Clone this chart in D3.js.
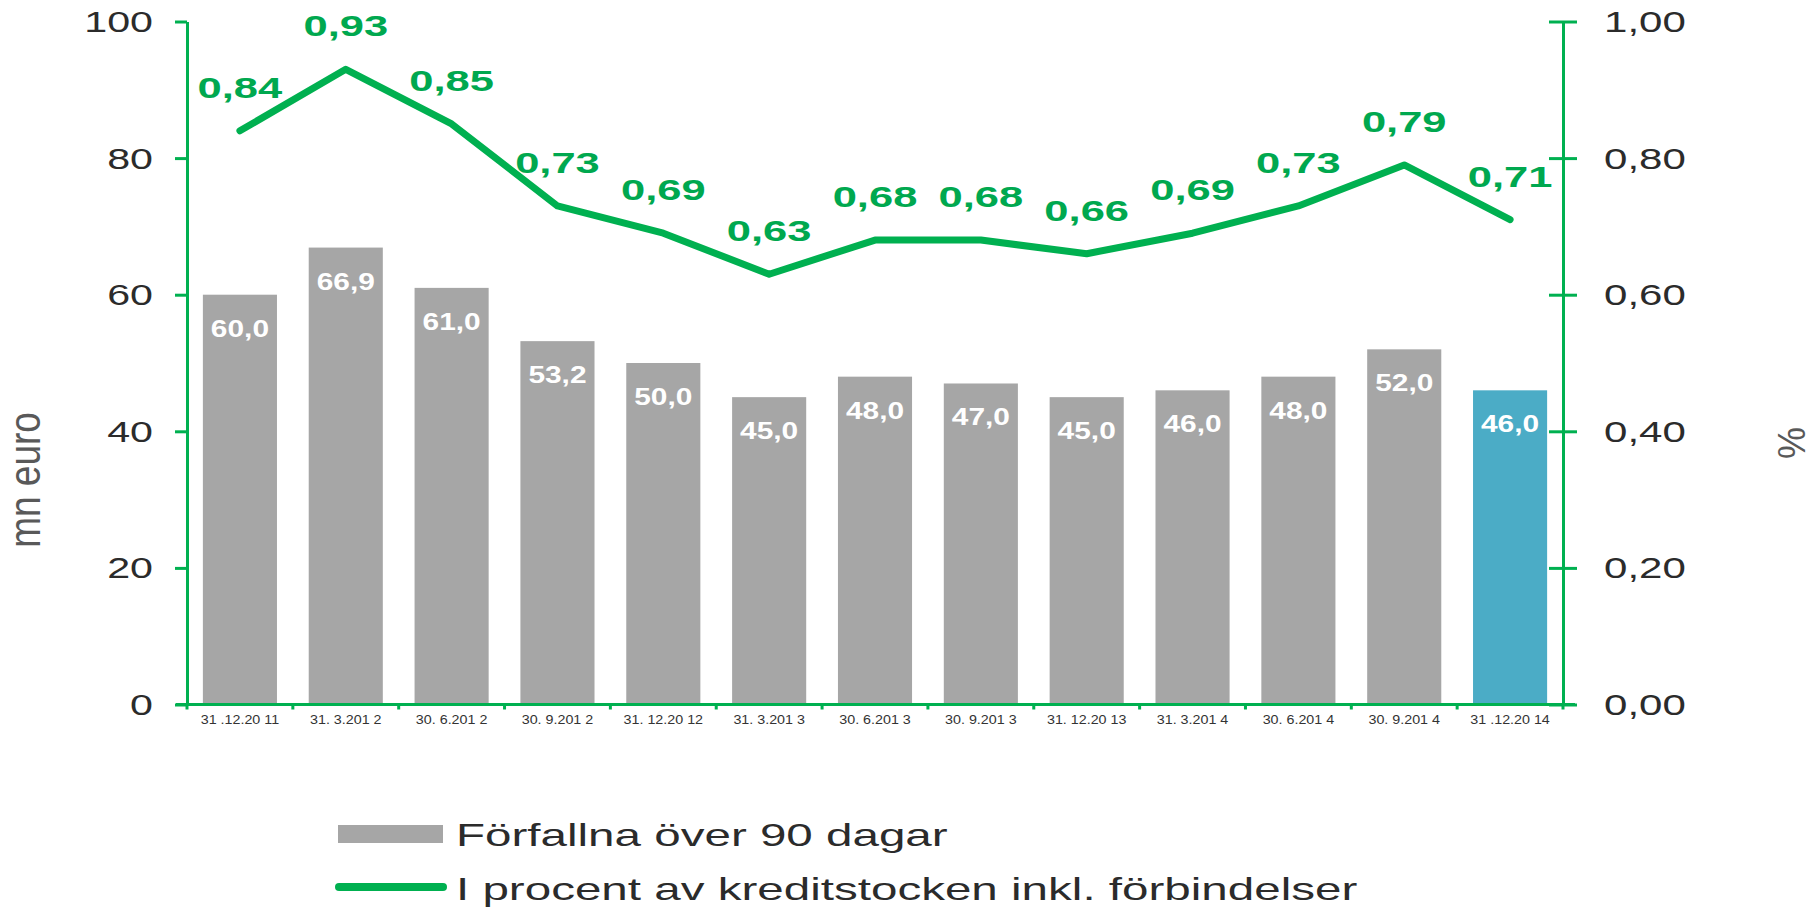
<!DOCTYPE html>
<html>
<head>
<meta charset="utf-8">
<script src="https://cdn.jsdelivr.net/npm/d3@7"></script>
<style>
  body { margin: 0; background: #fff; }
  text { font-family: "Liberation Sans", Arial, sans-serif; }
</style>
</head>
<body>
<svg width="1818" height="907"></svg>
<script>
// Data
var categories = ["31 .12.20 11", "31. 3.201 2", "30. 6.201 2", "30. 9.201 2", "31. 12.20 12",
  "31. 3.201 3", "30. 6.201 3", "30. 9.201 3", "31. 12.20 13", "31. 3.201 4",
  "30. 6.201 4", "30. 9.201 4", "31 .12.20 14"];
var overdue = [60.0, 66.9, 61.0, 53.2, 50.0, 45.0, 48.0, 47.0, 45.0, 46.0, 48.0, 52.0, 46.0];
var percent = [0.84, 0.93, 0.85, 0.73, 0.69, 0.63, 0.68, 0.68, 0.66, 0.69, 0.73, 0.79, 0.71];
var leftTicks = [0, 20, 40, 60, 80, 100];
var rightTicks = [0, 0.2, 0.4, 0.6, 0.8, 1.0];
var legendLabels = ["Förfallna över 90 dagar", "I procent av kreditstocken inkl. förbindelser"];

var green = "#00b050";
var greenText = "#00a84f";
var gray = "#a6a6a6";
var blue = "#4bacc6";

// Swedish number format
var locale = d3.formatLocale({decimal: ",", thousands: " ", grouping: [3], currency: ["", " €"]});
var f1 = locale.format(".1f");
var f2 = locale.format(".2f");

var svg = d3.select("svg");

// Scales
var x = d3.scaleBand().domain(categories).range([187, 1563]).paddingInner(0.3).paddingOuter(0.15);
var yL = d3.scaleLinear().domain([0, 100]).range([704.5, 21.5]);
var yR = d3.scaleLinear().domain([0, 1]).range([704.5, 21.5]);

// Text that is stretched horizontally, like the original picture
function stretched(parent, px, py, str, sx, rot) {
  var g = parent.append("g")
    .attr("transform", "translate(" + px + "," + py + ") scale(" + sx + ",1)" + (rot ? " rotate(" + rot + ")" : ""));
  return g.append("text").text(str);
}

// Bars
svg.append("g").selectAll("rect")
  .data(overdue)
  .join("rect")
  .attr("x", function(d, i) { return x(categories[i]); })
  .attr("y", function(d) { return yL(d); })
  .attr("width", x.bandwidth())
  .attr("height", function(d) { return yL(0) - yL(d); })
  .attr("fill", function(d, i) { return i === overdue.length - 1 ? blue : gray; });

// Bar labels
var barLabels = svg.append("g");
overdue.forEach(function(d, i) {
  stretched(barLabels, x(categories[i]) + x.bandwidth() / 2, yL(d) + 42, f1(d), 1.22)
    .attr("text-anchor", "middle")
    .attr("font-weight", "bold")
    .attr("font-size", 24.5)
    .attr("fill", "#ffffff");
});

// Left axis
var leftAxis = svg.append("g")
  .attr("transform", "translate(" + x.range()[0] + ",0)")
  .call(d3.axisLeft(yL).tickValues(leftTicks).tickSize(12).tickSizeOuter(0).tickFormat(""));
leftAxis.select(".domain").attr("stroke", green).attr("stroke-width", 3);
leftAxis.selectAll(".tick line").attr("stroke", green).attr("stroke-width", 3);
leftTicks.forEach(function(t) {
  stretched(svg, 153, yL(t) + 10.4, t, 1.42)
    .attr("text-anchor", "end")
    .attr("font-size", 29)
    .attr("fill", "#2b2b2b");
});

// Right axis, ticks crossing the line
var rightAxis = svg.append("g")
  .attr("transform", "translate(" + x.range()[1] + ",0)")
  .call(d3.axisRight(yR).tickValues(rightTicks).tickSize(14).tickSizeOuter(0).tickFormat(""));
rightAxis.select(".domain").attr("stroke", green).attr("stroke-width", 3);
rightAxis.selectAll(".tick line").attr("x1", -14).attr("stroke", green).attr("stroke-width", 3);
rightTicks.forEach(function(t) {
  stretched(svg, 1604, yR(t) + 10.4, f2(t), 1.45)
    .attr("text-anchor", "start")
    .attr("font-size", 29)
    .attr("fill", "#2b2b2b");
});

// Category axis
var bottomAxis = svg.append("g")
  .attr("transform", "translate(0," + yL(0) + ")")
  .call(d3.axisBottom(x).tickSize(0).tickSizeOuter(0).tickFormat(""));
bottomAxis.select(".domain").remove();
bottomAxis.append("line")
  .attr("x1", x.range()[0] - 11).attr("x2", x.range()[1] + 12)
  .attr("stroke", green).attr("stroke-width", 3);
bottomAxis.selectAll(".boundary")
  .data(d3.range(categories.length + 1))
  .join("line")
  .attr("x1", function(i) { return x.range()[0] + i * x.step(); })
  .attr("x2", function(i) { return x.range()[0] + i * x.step(); })
  .attr("y1", 0).attr("y2", 5)
  .attr("stroke", green).attr("stroke-width", 3);
categories.forEach(function(c) {
  stretched(svg, x(c) + x.bandwidth() / 2, 724, c, 1.1)
    .attr("text-anchor", "middle")
    .attr("font-size", 13)
    .attr("fill", "#333333");
});

// Axis titles
stretched(svg, 40, 480, "mn euro", 1.2, -90)
  .attr("text-anchor", "middle")
  .attr("font-size", 37)
  .attr("fill", "#595959");
stretched(svg, 1805, 443, "%", 1.1, -90)
  .attr("text-anchor", "middle")
  .attr("font-size", 36)
  .attr("fill", "#595959");

// Line
var line = d3.line()
  .x(function(d, i) { return x(categories[i]) + x.bandwidth() / 2; })
  .y(function(d) { return yR(d); });
svg.append("path")
  .datum(percent)
  .attr("d", line)
  .attr("fill", "none")
  .attr("stroke", green)
  .attr("stroke-width", 7)
  .attr("stroke-linejoin", "round")
  .attr("stroke-linecap", "round");

// Line labels
percent.forEach(function(d, i) {
  stretched(svg, x(categories[i]) + x.bandwidth() / 2, yR(d) - 33, f2(d), 1.45)
    .attr("text-anchor", "middle")
    .attr("font-weight", "bold")
    .attr("font-size", 30)
    .attr("fill", greenText);
});

// Legend
var legend = svg.append("g");
legend.append("rect")
  .attr("x", 338).attr("y", 825).attr("width", 105).attr("height", 18)
  .attr("fill", gray);
legend.append("line")
  .attr("x1", 339).attr("x2", 443).attr("y1", 887).attr("y2", 887)
  .attr("stroke", green).attr("stroke-width", 8).attr("stroke-linecap", "round");
legendLabels.forEach(function(l, i) {
  stretched(legend, 456, 846 + i * 54, l, 1.51)
    .attr("font-size", 31.5)
    .attr("fill", "#2b2b2b");
});
</script>
</body>
</html>
